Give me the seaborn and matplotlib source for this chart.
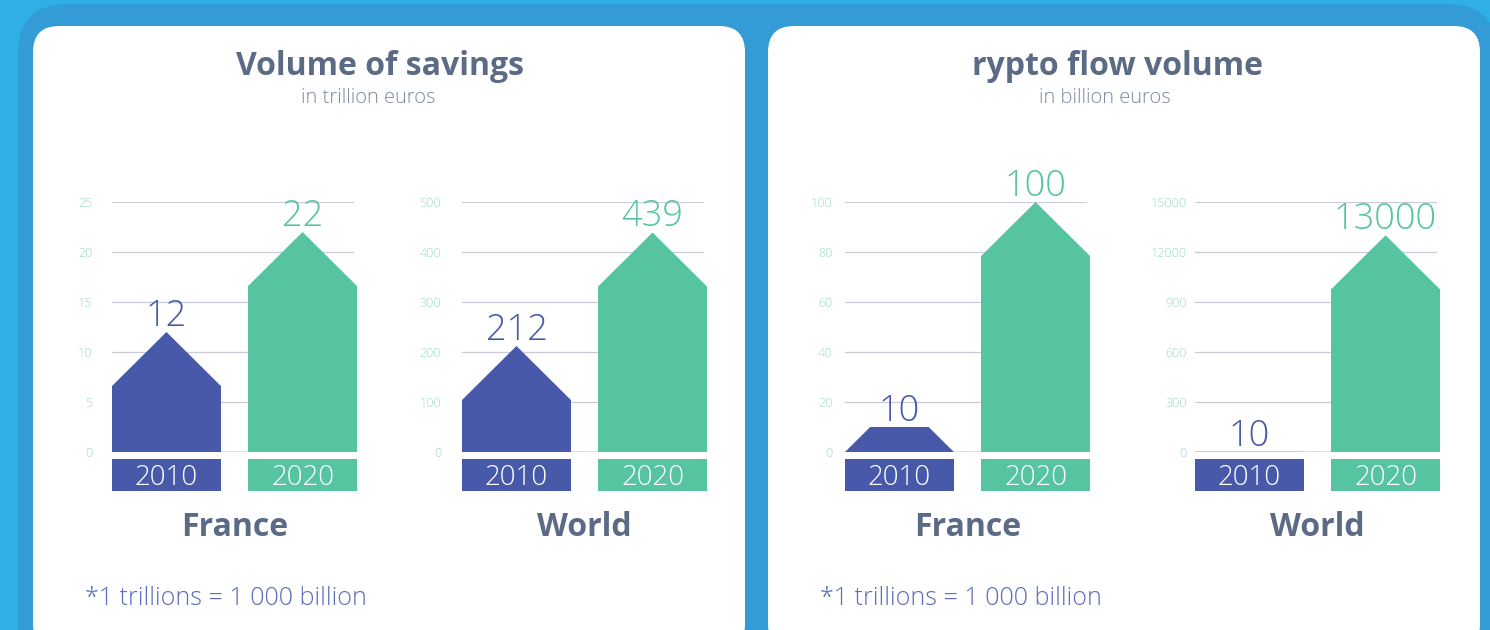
import matplotlib
matplotlib.use("Agg")
import matplotlib.pyplot as plt
from matplotlib.patches import FancyBboxPatch, Polygon, Rectangle
import seaborn as sns
import pandas as pd

years = ["2010", "2020"]
savings_france = [12, 22]
savings_world = [212, 439]
crypto_france = [10, 100]
crypto_world = [10, 13000]

savings_france_ticks = [0, 5, 10, 15, 20, 25]
savings_world_ticks = [0, 100, 200, 300, 400, 500]
crypto_france_ticks = [0, 20, 40, 60, 80, 100]
crypto_world_ticks = [0, 3000, 6000, 9000, 12000, 15000]
crypto_world_ticklabels = ["0", "300", "600", "900", "12000", "15000"]

panel_titles = ["Volume of savings", "rypto flow volume"]
panel_units = ["in trillion euros", "in billion euros"]
region_names = ["France", "World"]
footnote = "*1 trillions = 1 000 billion"

BLUE = "#4759A8"
GREEN = "#56C4A0"
SLATE = "#5B6B85"
SUB = "#7F8A9E"
TICK = "#9FD9C5"
GRID = "#CACBD6"
W, H = 1490, 630

sns.set_theme(style="white")
plt.rcParams["font.family"] = ["Open Sans", "DejaVu Sans"]

fig = plt.figure(figsize=(W / 100, H / 100), dpi=100)
fig.patch.set_facecolor("#30AEE6")


def px_box(x0, y0, x1, y1, color, r):
    # rounded box given in pixel coords (top-left origin)
    p = FancyBboxPatch((x0 / 100, (H - y1) / 100), (x1 - x0) / 100, (y1 - y0) / 100,
                       boxstyle=f"round,pad=0,rounding_size={r / 100}",
                       transform=fig.dpi_scale_trans, facecolor=color,
                       edgecolor="none", zorder=-5)
    fig.patches.append(p)


px_box(18, 4, 1497, 720, "#339BD5", 50)
px_box(33, 26, 745, 650, "white", 26)
px_box(768, 26, 1480, 650, "white", 26)


def draw_house_bars(left, values, ticks, ticklabels, pad, region):
    ax = fig.add_axes([left / W, (H - 452) / H, 245 / W, 250 / H])
    ax.set_facecolor("none")
    ymax = ticks[-1]
    tri = ymax * 54 / 250  # roof height is fixed in pixels
    df = pd.DataFrame({"year": years, "body": [max(v - tri, 0) for v in values]})
    sns.barplot(data=df, x="year", y="body", hue="year", palette=[BLUE, GREEN],
                legend=False, width=0.8, saturation=1, linewidth=0, ax=ax, zorder=3)
    for i, (v, c) in enumerate(zip(values, [BLUE, GREEN])):
        if v >= tri:
            pts = [(i - 0.4, 0), (i - 0.4, v - tri), (i, v), (i + 0.4, v - tri), (i + 0.4, 0)]
        else:
            hw = 0.4 * (1 - v / tri)
            pts = [(i - 0.4, 0), (i - hw, v), (i + hw, v), (i + 0.4, 0)]
        ax.add_patch(Polygon(pts, closed=True, facecolor=c, edgecolor="none",
                             linewidth=0, zorder=3))
        ax.annotate(str(v), (i, v), xytext=(0, 4.5), textcoords="offset points",
                    ha="center", va="baseline", fontsize=26, fontweight="light",
                    color=c, annotation_clip=False)
        tr = ax.get_xaxis_transform()
        ax.add_patch(Rectangle((i - 0.4, -0.156), 0.8, 0.128, transform=tr,
                               facecolor=c, edgecolor="none", clip_on=False))
        ax.text(i, -0.132, years[i], transform=tr, ha="center", va="baseline",
                fontsize=20, fontweight="light", color="white")
    ax.set_xlim(-0.4, 1.4)
    ax.set_ylim(0, ymax)
    ax.set_yticks(ticks, ticklabels)
    ax.set_xticks([])
    ax.set_xlabel("")
    ax.set_ylabel("")
    ax.tick_params(axis="y", length=0, pad=pad, labelsize=9, labelcolor=TICK)
    for t in ax.get_yticklabels():
        t.set_fontweight("light")
    for t in ticks[1:]:
        ax.axhline(t, xmax=0.985, color=GRID, linewidth=0.9, zorder=1)
    ax.axhline(0, xmax=0.985, color="#DDDEE6", linewidth=2, zorder=2)
    sns.despine(ax=ax, left=True, bottom=True)
    ax.text(0.5, -0.335, region, transform=ax.transAxes, ha="center", va="baseline",
            fontsize=23, fontweight="bold", color=SLATE)
    return ax


draw_house_bars(112, savings_france, savings_france_ticks,
                [str(t) for t in savings_france_ticks], 14, region_names[0])
draw_house_bars(462, savings_world, savings_world_ticks,
                [str(t) for t in savings_world_ticks], 15, region_names[1])
draw_house_bars(845, crypto_france, crypto_france_ticks,
                [str(t) for t in crypto_france_ticks], 9, region_names[0])
draw_house_bars(1195, crypto_world, crypto_world_ticks,
                crypto_world_ticklabels, 6, region_names[1])

for cx, sx, fx, title, unit in zip([380, 1117], [368, 1105], [85, 820],
                                   panel_titles, panel_units):
    fig.text(cx / W, (H - 75) / H, title, ha="center", va="baseline",
             fontsize=23, fontweight="bold", color=SLATE)
    fig.text(sx / W, (H - 103) / H, unit, ha="center", va="baseline",
             fontsize=14.5, fontweight="light", color=SUB)
    fig.text(fx / W, (H - 605) / H, footnote, ha="left", va="baseline",
             fontsize=18, fontweight="light", color="#5C6CBE")

fig.savefig("out.png", dpi=100, facecolor=fig.get_facecolor())
